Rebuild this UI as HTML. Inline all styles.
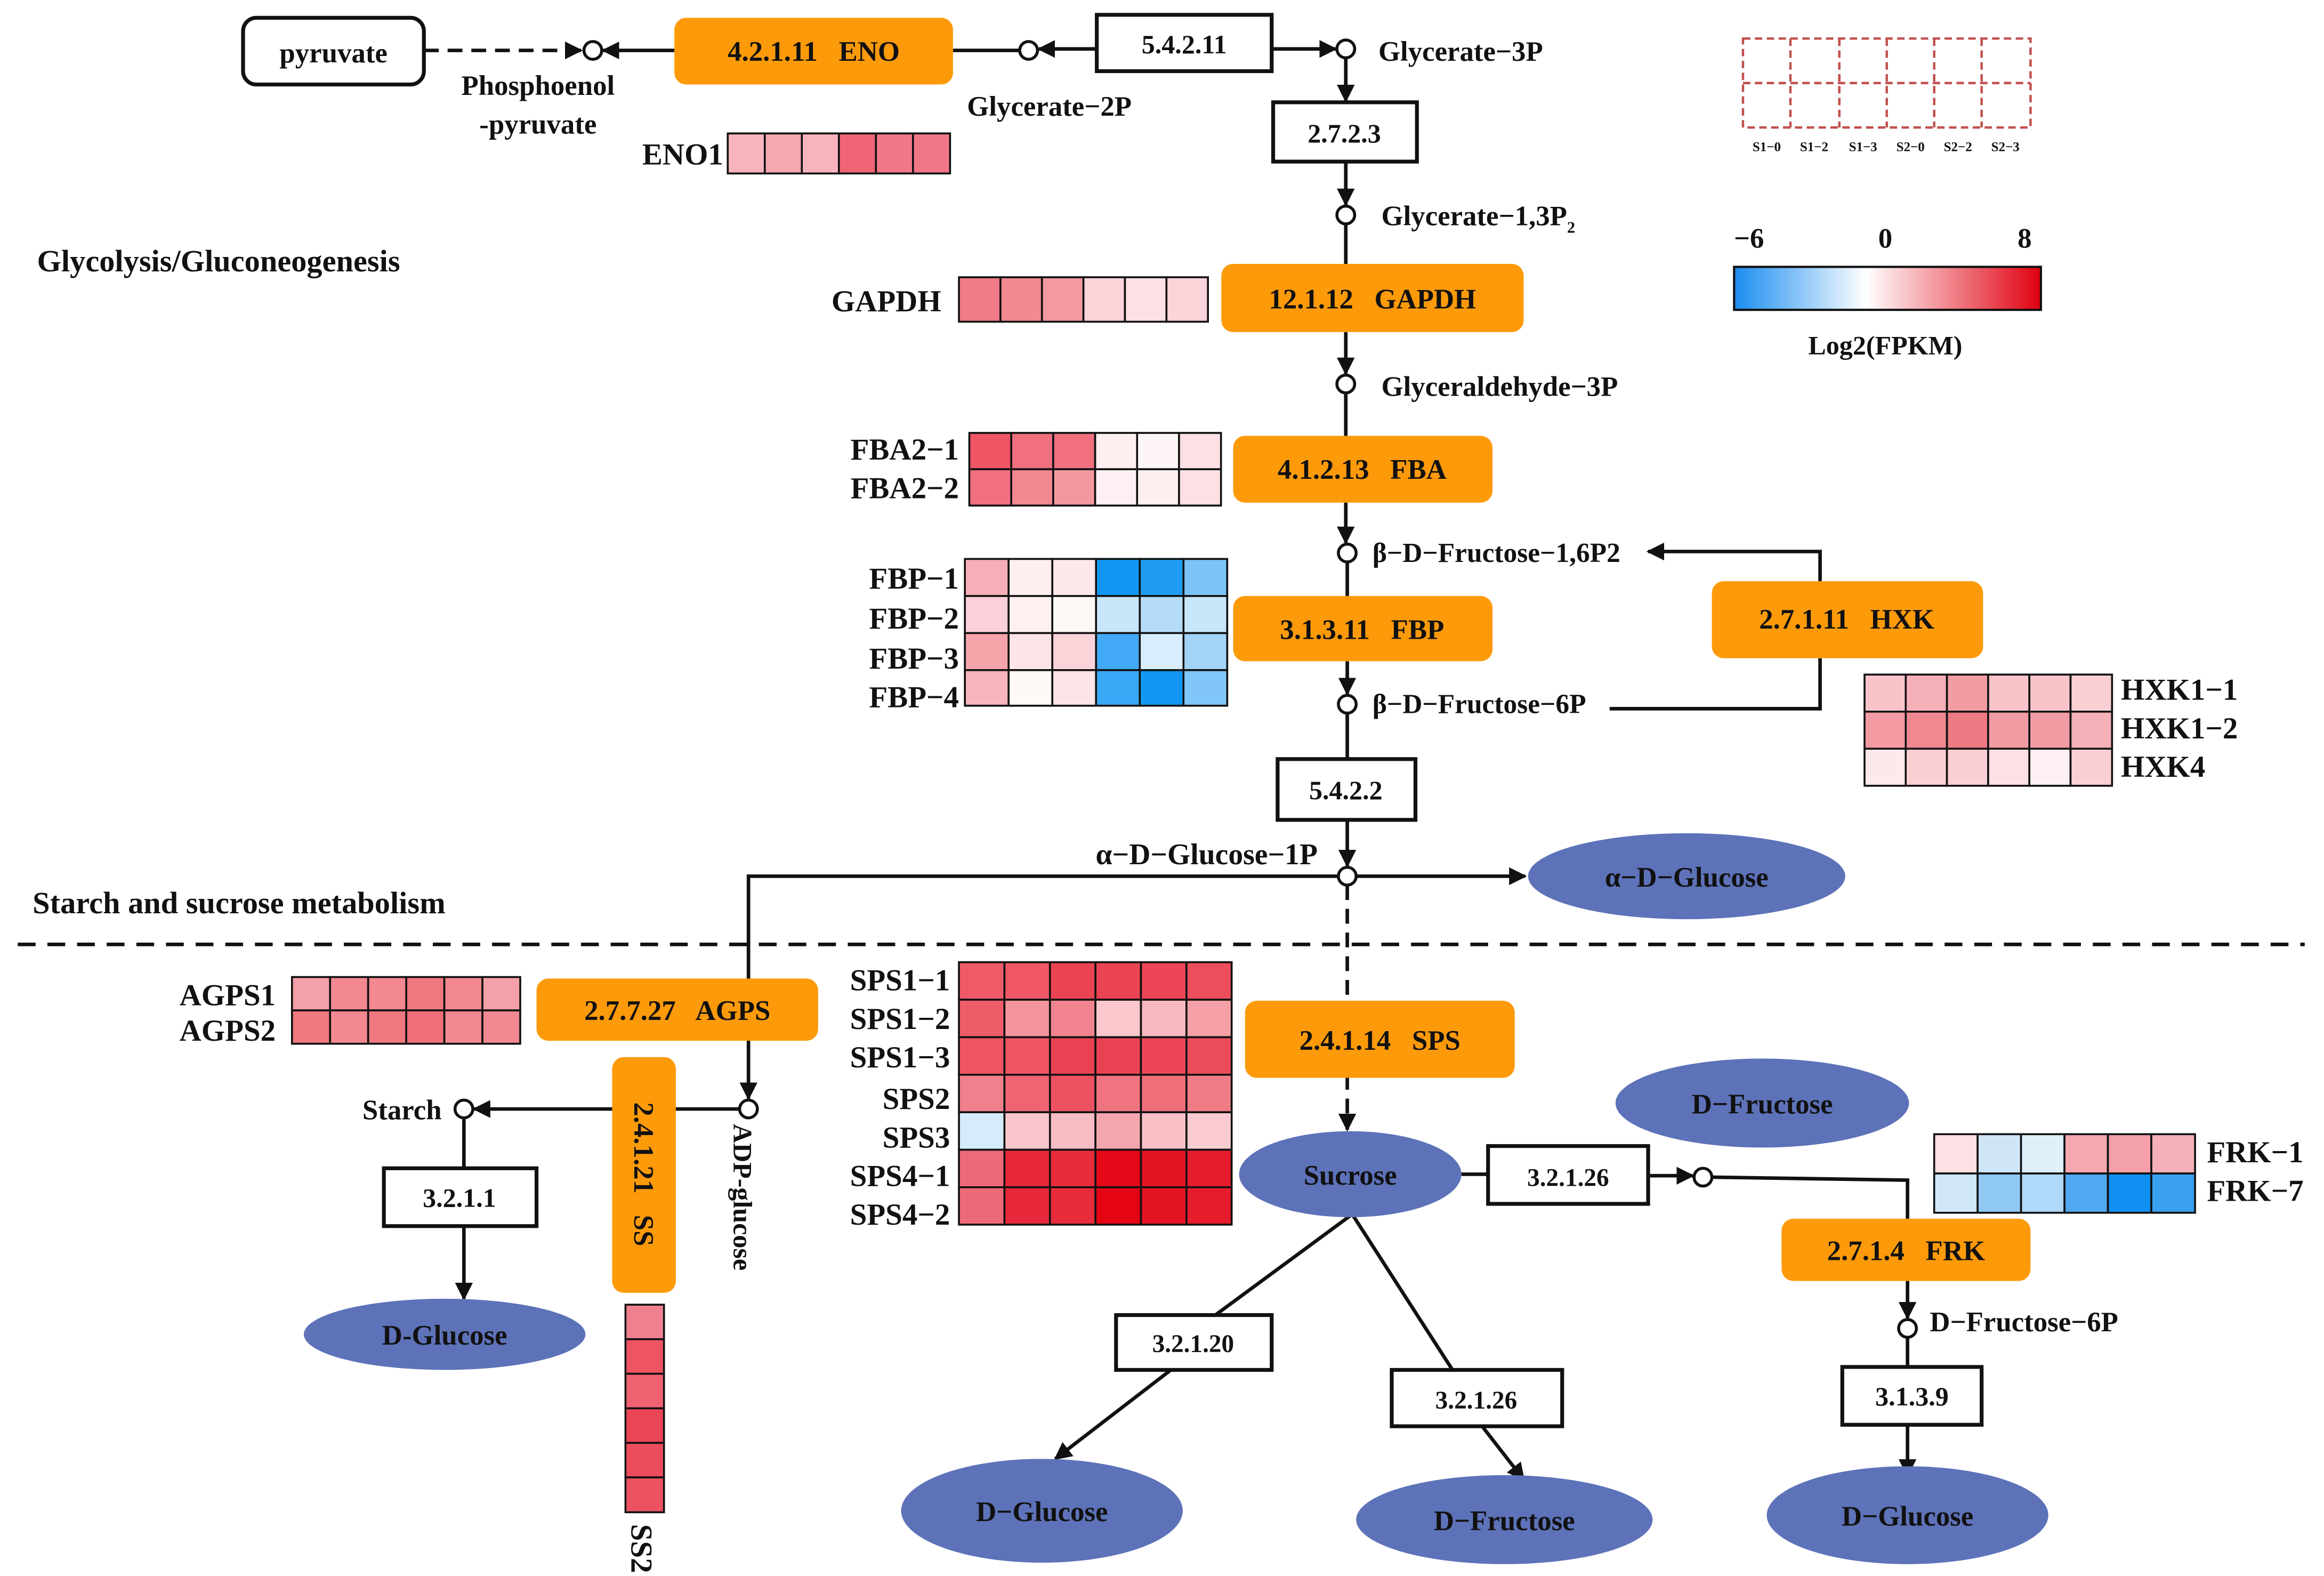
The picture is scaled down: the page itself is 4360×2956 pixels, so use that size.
<!DOCTYPE html>
<html><head><meta charset="utf-8"><style>
html,body{margin:0;padding:0;background:#fff}
svg{display:block}
text{font-family:"Liberation Serif",serif;font-weight:bold;fill:#111;white-space:pre}
.hm rect{stroke:#111;stroke-width:1.3}
.or{fill:#fd9a0a}
.bx{fill:#fff;stroke:#111;stroke-width:2.6}
.el{fill:#5d72b8}
.ln{stroke:#111;stroke-width:2.4;fill:none}
.ci{fill:#fff;stroke:#111;stroke-width:2}
</style></head><body>
<svg width="4360" height="2956" viewBox="0 0 1568 1063" preserveAspectRatio="none" xmlns="http://www.w3.org/2000/svg" xml:space="preserve">
<defs>
<marker id="a" viewBox="0 0 10 10" refX="9" refY="5" markerWidth="12" markerHeight="12" markerUnits="userSpaceOnUse" orient="auto"><path d="M0,0 L10,5 L0,10 z" fill="#111"/></marker>
<linearGradient id="cb" x1="0" x2="1"><stop offset="0" stop-color="#1a8cf0"/><stop offset="0.43" stop-color="#ffffff"/><stop offset="1" stop-color="#e00010"/></linearGradient>
</defs>

<text x="25" y="183" font-size="21">Glycolysis/Gluconeogenesis</text>
<text x="22" y="616" font-size="21">Starch and sucrose metabolism</text>
<line x1="12" y1="637" x2="1555" y2="637" stroke="#111" stroke-width="2.4" stroke-dasharray="12,8"/>

<g stroke="#c0504d" stroke-width="1.6" stroke-dasharray="5,3" fill="none">
<rect x="1176" y="26" width="194" height="60"/>
<line x1="1176" y1="56" x2="1370" y2="56"/>
<line x1="1208" y1="26" x2="1208" y2="86"/><line x1="1241" y1="26" x2="1241" y2="86"/><line x1="1273" y1="26" x2="1273" y2="86"/><line x1="1305" y1="26" x2="1305" y2="86"/><line x1="1337" y1="26" x2="1337" y2="86"/>
</g>
<g font-size="9" text-anchor="middle"><text x="1192" y="102">S1−0</text><text x="1224" y="102">S1−2</text><text x="1257" y="102">S1−3</text><text x="1289" y="102">S2−0</text><text x="1321" y="102">S2−2</text><text x="1353" y="102">S2−3</text></g>
<g font-size="19" text-anchor="middle"><text x="1180" y="167">−6</text><text x="1272" y="167">0</text><text x="1366" y="167">8</text></g>
<rect x="1170" y="180" width="207" height="29" fill="url(#cb)" stroke="#111" stroke-width="1.5"/>
<text x="1272" y="239" font-size="18" text-anchor="middle">Log2(FPKM)</text>

<line class="ln" x1="286" y1="34" x2="392" y2="34" stroke-dasharray="10,6" marker-end="url(#a)"/>
<line class="ln" x1="455" y1="34" x2="407" y2="34" marker-end="url(#a)"/>
<line class="ln" x1="643" y1="34" x2="688" y2="34"/>
<line class="ln" x1="740" y1="33" x2="701" y2="33" marker-end="url(#a)"/>
<line class="ln" x1="858" y1="33" x2="901" y2="33" marker-end="url(#a)"/>
<line class="ln" x1="908" y1="39" x2="908" y2="68" marker-end="url(#a)"/>
<line class="ln" x1="908" y1="109" x2="908" y2="138" marker-end="url(#a)"/>
<line class="ln" x1="908" y1="151" x2="908" y2="178"/>
<line class="ln" x1="908" y1="224" x2="908" y2="252" marker-end="url(#a)"/>
<line class="ln" x1="908" y1="265" x2="908" y2="294"/>
<line class="ln" x1="908" y1="339" x2="908" y2="366" marker-end="url(#a)"/>
<line class="ln" x1="909" y1="379" x2="909" y2="402"/>
<line class="ln" x1="909" y1="446" x2="909" y2="468" marker-end="url(#a)"/>
<line class="ln" x1="909" y1="481" x2="909" y2="512"/>
<line class="ln" x1="909" y1="553" x2="909" y2="584" marker-end="url(#a)"/>
<polyline class="ln" points="1228,392 1228,372 1112,372" marker-end="url(#a)"/>
<polyline class="ln" points="1228,444 1228,478 1086,478"/>
<line class="ln" x1="915" y1="591" x2="1029" y2="591" marker-end="url(#a)"/>
<polyline class="ln" points="903,591 505,591 505,741" marker-end="url(#a)"/>
<line class="ln" x1="909" y1="597" x2="909" y2="762" stroke-dasharray="10,6" marker-end="url(#a)"/>
<line class="ln" x1="499" y1="748" x2="320" y2="748" marker-end="url(#a)"/>
<line class="ln" x1="313" y1="754" x2="313" y2="788"/>
<line class="ln" x1="313" y1="827" x2="313" y2="876" marker-end="url(#a)"/>
<line class="ln" x1="986" y1="792" x2="1004" y2="792"/>
<line class="ln" x1="1112" y1="793" x2="1142" y2="793" marker-end="url(#a)"/>
<polyline class="ln" points="1155,794 1287,796 1287,822"/>
<line class="ln" x1="1287" y1="864" x2="1287" y2="889" marker-end="url(#a)"/>
<line class="ln" x1="1287" y1="902" x2="1287" y2="922"/>
<line class="ln" x1="1287" y1="961" x2="1287" y2="995" marker-end="url(#a)"/>
<line class="ln" x1="911" y1="820" x2="820" y2="887"/>
<line class="ln" x1="790" y1="924" x2="712" y2="984" marker-end="url(#a)"/>
<line class="ln" x1="913" y1="820" x2="980" y2="924"/>
<line class="ln" x1="1000" y1="962" x2="1028" y2="998" marker-end="url(#a)"/>

<g class="ci"><circle cx="400" cy="34" r="6"/><circle cx="694" cy="34" r="6"/><circle cx="908" cy="33" r="6"/><circle cx="908" cy="145" r="6"/><circle cx="908" cy="259" r="6"/><circle cx="909" cy="373" r="6"/><circle cx="909" cy="475" r="6"/><circle cx="909" cy="591" r="6"/><circle cx="505" cy="748" r="6"/><circle cx="313" cy="748" r="6"/><circle cx="1149" cy="794" r="6"/><circle cx="1287" cy="896" r="6"/></g>

<rect class="bx" x="164" y="12" width="122" height="45" rx="9"/><text x="225" y="42" font-size="19" text-anchor="middle">pyruvate</text>
<rect class="bx" x="740" y="10" width="118" height="38"/><text x="799" y="36" font-size="18" text-anchor="middle">5.4.2.11</text>
<rect class="bx" x="859" y="69" width="97" height="40"/><text x="907" y="96" font-size="18" text-anchor="middle">2.7.2.3</text>
<rect class="bx" x="862" y="512" width="93" height="41"/><text x="908" y="539" font-size="18" text-anchor="middle">5.4.2.2</text>
<rect class="bx" x="259" y="788" width="103" height="39"/><text x="310" y="814" font-size="18" text-anchor="middle">3.2.1.1</text>
<rect class="bx" x="1004" y="773" width="108" height="39"/><text x="1058" y="800" font-size="17" text-anchor="middle">3.2.1.26</text>
<rect class="bx" x="753" y="887" width="105" height="37"/><text x="805" y="912" font-size="17" text-anchor="middle">3.2.1.20</text>
<rect class="bx" x="939" y="924" width="115" height="38"/><text x="996" y="950" font-size="17" text-anchor="middle">3.2.1.26</text>
<rect class="bx" x="1243" y="922" width="94" height="39"/><text x="1290" y="948" font-size="18" text-anchor="middle">3.1.3.9</text>

<g font-size="19" text-anchor="middle">
<rect class="or" x="455" y="12" width="188" height="45" rx="8"/><text x="549" y="41">4.2.1.11   ENO</text>
<rect class="or" x="824" y="178" width="204" height="46" rx="8"/><text x="926" y="208">12.1.12   GAPDH</text>
<rect class="or" x="832" y="294" width="175" height="45" rx="8"/><text x="919" y="323">4.1.2.13   FBA</text>
<rect class="or" x="832" y="402" width="175" height="44" rx="8"/><text x="919" y="431">3.1.3.11   FBP</text>
<rect class="or" x="1155" y="392" width="183" height="52" rx="8"/><text x="1246" y="424">2.7.1.11   HXK</text>
<rect class="or" x="362" y="660" width="190" height="42" rx="8"/><text x="457" y="688">2.7.7.27   AGPS</text>
<rect class="or" x="413" y="713" width="43" height="159" rx="8"/><text transform="translate(428,792) rotate(90)" x="0" y="0">2.4.1.21   SS</text>
<rect class="or" x="840" y="675" width="182" height="52" rx="8"/><text x="931" y="708">2.4.1.14   SPS</text>
<rect class="or" x="1202" y="822" width="168" height="42" rx="8"/><text x="1286" y="850">2.7.1.4   FRK</text>
</g>

<g font-size="19" text-anchor="middle">
<ellipse class="el" cx="1138" cy="591" rx="107" ry="29"/><text x="1138" y="598">α−D−Glucose</text>
<ellipse class="el" cx="1189" cy="744" rx="99" ry="30"/><text x="1189" y="751">D−Fructose</text>
<ellipse class="el" cx="911" cy="792" rx="75" ry="29"/><text x="911" y="799">Sucrose</text>
<ellipse class="el" cx="300" cy="900" rx="95" ry="24"/><text x="300" y="907">D-Glucose</text>
<ellipse class="el" cx="703" cy="1019" rx="95" ry="35"/><text x="703" y="1026">D−Glucose</text>
<ellipse class="el" cx="1015" cy="1025" rx="100" ry="30"/><text x="1015" y="1032">D−Fructose</text>
<ellipse class="el" cx="1287" cy="1022" rx="95" ry="33"/><text x="1287" y="1029">D−Glucose</text>
</g>

<g font-size="19">
<text x="363" y="64" text-anchor="middle">Phosphoenol</text>
<text x="363" y="90" text-anchor="middle">-pyruvate</text>
<text x="708" y="78" text-anchor="middle">Glycerate−2P</text>
<text x="930" y="41">Glycerate−3P</text>
<text x="932" y="152">Glycerate−1,3P<tspan font-size="11" dy="5">2</tspan></text>
<text x="932" y="267">Glyceraldehyde−3P</text>
<text x="926" y="379" font-size="18.5">β−D−Fructose−1,6P2</text>
<text x="926" y="481" font-size="18.5">β−D−Fructose−6P</text>
<text x="889" y="583" text-anchor="end" font-size="20">α−D−Glucose−1P</text>
<text x="298" y="755" text-anchor="end">Starch</text>
<text transform="translate(495,758) rotate(90)" font-size="18">ADP-glucose</text>
<text x="1302" y="898">D−Fructose−6P</text>
</g>

<g font-size="20.5" text-anchor="end">
<text x="488" y="111">ENO1</text>
<text x="635" y="210">GAPDH</text>
<text x="647" y="310">FBA2−1</text><text x="647" y="336">FBA2−2</text>
<text x="647" y="397">FBP−1</text><text x="647" y="424">FBP−2</text><text x="647" y="451">FBP−3</text><text x="647" y="477">FBP−4</text>
<text x="186" y="678">AGPS1</text><text x="186" y="702">AGPS2</text>
<text x="641" y="668">SPS1−1</text><text x="641" y="694">SPS1−2</text><text x="641" y="720">SPS1−3</text><text x="641" y="748">SPS2</text><text x="641" y="774">SPS3</text><text x="641" y="800">SPS4−1</text><text x="641" y="826">SPS4−2</text>
</g>
<g font-size="20.5">
<text x="1431" y="472">HXK1−1</text><text x="1431" y="498">HXK1−2</text><text x="1431" y="524">HXK4</text>
<text x="1489" y="784">FRK−1</text><text x="1489" y="810">FRK−7</text>
<text transform="translate(426,1028) rotate(90)">SS2</text>
</g>

<g class="hm">
<rect x="491" y="90" width="25" height="27" fill="#f8b4bc"/><rect x="516" y="90" width="25" height="27" fill="#f6a8b0"/><rect x="541" y="90" width="25" height="27" fill="#f8b4bc"/><rect x="566" y="90" width="25" height="27" fill="#ef6474"/><rect x="591" y="90" width="25" height="27" fill="#f27888"/><rect x="616" y="90" width="25" height="27" fill="#f27888"/>
<rect x="647" y="187" width="28" height="30" fill="#f07c88"/><rect x="675" y="187" width="28" height="30" fill="#f28890"/><rect x="703" y="187" width="28" height="30" fill="#f4999f"/><rect x="731" y="187" width="28" height="30" fill="#fcd4da"/><rect x="759" y="187" width="28" height="30" fill="#fde0e3"/><rect x="787" y="187" width="28" height="30" fill="#fcd4da"/>
<rect x="654" y="292" width="28.3" height="24.5" fill="#ee5565"/><rect x="682.3" y="292" width="28.3" height="24.5" fill="#f07080"/><rect x="710.6" y="292" width="28.3" height="24.5" fill="#f07080"/><rect x="738.9" y="292" width="28.3" height="24.5" fill="#fdeef0"/><rect x="767.2" y="292" width="28.3" height="24.5" fill="#fef5f6"/><rect x="795.5" y="292" width="28.3" height="24.5" fill="#fde0e4"/>
<rect x="654" y="316.5" width="28.3" height="24.5" fill="#f07080"/><rect x="682.3" y="316.5" width="28.3" height="24.5" fill="#f28890"/><rect x="710.6" y="316.5" width="28.3" height="24.5" fill="#f4989f"/><rect x="738.9" y="316.5" width="28.3" height="24.5" fill="#fef0f2"/><rect x="767.2" y="316.5" width="28.3" height="24.5" fill="#fdeef0"/><rect x="795.5" y="316.5" width="28.3" height="24.5" fill="#fde0e4"/>
<rect x="651" y="377" width="29.5" height="25" fill="#f6aeb8"/><rect x="680.5" y="377" width="29.5" height="25" fill="#fdeef0"/><rect x="710" y="377" width="29.5" height="25" fill="#fde8ea"/><rect x="739.5" y="377" width="29.5" height="25" fill="#1298f4"/><rect x="769" y="377" width="29.5" height="25" fill="#209cf4"/><rect x="798.5" y="377" width="29.5" height="25" fill="#7ac4f8"/>
<rect x="651" y="402" width="29.5" height="25" fill="#fbd0d8"/><rect x="680.5" y="402" width="29.5" height="25" fill="#fdf0f1"/><rect x="710" y="402" width="29.5" height="25" fill="#fef8f6"/><rect x="739.5" y="402" width="29.5" height="25" fill="#c8e6fa"/><rect x="769" y="402" width="29.5" height="25" fill="#b4dcfa"/><rect x="798.5" y="402" width="29.5" height="25" fill="#c8e6fa"/>
<rect x="651" y="427" width="29.5" height="25" fill="#f5a4aa"/><rect x="680.5" y="427" width="29.5" height="25" fill="#fde4e6"/><rect x="710" y="427" width="29.5" height="25" fill="#fbd4da"/><rect x="739.5" y="427" width="29.5" height="25" fill="#42aaf6"/><rect x="769" y="427" width="29.5" height="25" fill="#d8eefc"/><rect x="798.5" y="427" width="29.5" height="25" fill="#a2d4f8"/>
<rect x="651" y="452" width="29.5" height="24" fill="#f6b4bc"/><rect x="680.5" y="452" width="29.5" height="24" fill="#fef8f6"/><rect x="710" y="452" width="29.5" height="24" fill="#fde4e6"/><rect x="739.5" y="452" width="29.5" height="24" fill="#3aa8f6"/><rect x="769" y="452" width="29.5" height="24" fill="#1298f4"/><rect x="798.5" y="452" width="29.5" height="24" fill="#80c6f8"/>
<rect x="1258" y="455" width="27.8" height="25" fill="#f8c4ca"/><rect x="1285.8" y="455" width="27.8" height="25" fill="#f6b0b8"/><rect x="1313.6" y="455" width="27.8" height="25" fill="#f29ca4"/><rect x="1341.4" y="455" width="27.8" height="25" fill="#f8c4ca"/><rect x="1369.2" y="455" width="27.8" height="25" fill="#f8c4ca"/><rect x="1397" y="455" width="28" height="25" fill="#fad0d5"/>
<rect x="1258" y="480" width="27.8" height="25" fill="#f39aa3"/><rect x="1285.8" y="480" width="27.8" height="25" fill="#f08890"/><rect x="1313.6" y="480" width="27.8" height="25" fill="#ee7a84"/><rect x="1341.4" y="480" width="27.8" height="25" fill="#f29ca4"/><rect x="1369.2" y="480" width="27.8" height="25" fill="#f29ca4"/><rect x="1397" y="480" width="28" height="25" fill="#f6b0b8"/>
<rect x="1258" y="505" width="27.8" height="25" fill="#fde8ea"/><rect x="1285.8" y="505" width="27.8" height="25" fill="#fad0d5"/><rect x="1313.6" y="505" width="27.8" height="25" fill="#fad0d5"/><rect x="1341.4" y="505" width="27.8" height="25" fill="#fde0e3"/><rect x="1369.2" y="505" width="27.8" height="25" fill="#fef0f2"/><rect x="1397" y="505" width="28" height="25" fill="#fad0d5"/>
<rect x="197" y="659" width="25.7" height="22.5" fill="#f4a0a8"/><rect x="222.7" y="659" width="25.7" height="22.5" fill="#f28890"/><rect x="248.4" y="659" width="25.7" height="22.5" fill="#f28890"/><rect x="274.1" y="659" width="25.7" height="22.5" fill="#f07880"/><rect x="299.8" y="659" width="25.7" height="22.5" fill="#f28890"/><rect x="325.5" y="659" width="25.5" height="22.5" fill="#f4a0a8"/>
<rect x="197" y="681.5" width="25.7" height="22.5" fill="#f07880"/><rect x="222.7" y="681.5" width="25.7" height="22.5" fill="#f28890"/><rect x="248.4" y="681.5" width="25.7" height="22.5" fill="#f07880"/><rect x="274.1" y="681.5" width="25.7" height="22.5" fill="#ef707a"/><rect x="299.8" y="681.5" width="25.7" height="22.5" fill="#f28890"/><rect x="325.5" y="681.5" width="25.5" height="22.5" fill="#f28890"/>
<rect x="647" y="649" width="30.7" height="25.3" fill="#ee5a68"/><rect x="677.7" y="649" width="30.7" height="25.3" fill="#f05868"/><rect x="708.4" y="649" width="30.7" height="25.3" fill="#ea4452"/><rect x="739.1" y="649" width="30.7" height="25.3" fill="#ea4452"/><rect x="769.8" y="649" width="30.7" height="25.3" fill="#ec4656"/><rect x="800.5" y="649" width="30.5" height="25.3" fill="#ec4e5c"/>
<rect x="647" y="674.3" width="30.7" height="25.3" fill="#ef5c6a"/><rect x="677.7" y="674.3" width="30.7" height="25.3" fill="#f4949c"/><rect x="708.4" y="674.3" width="30.7" height="25.3" fill="#f28490"/><rect x="739.1" y="674.3" width="30.7" height="25.3" fill="#fac8cc"/><rect x="769.8" y="674.3" width="30.7" height="25.3" fill="#f8b8c0"/><rect x="800.5" y="674.3" width="30.5" height="25.3" fill="#f4a0a6"/>
<rect x="647" y="699.6" width="30.7" height="25.3" fill="#ee5464"/><rect x="677.7" y="699.6" width="30.7" height="25.3" fill="#f05464"/><rect x="708.4" y="699.6" width="30.7" height="25.3" fill="#ea4252"/><rect x="739.1" y="699.6" width="30.7" height="25.3" fill="#ea4252"/><rect x="769.8" y="699.6" width="30.7" height="25.3" fill="#ec4656"/><rect x="800.5" y="699.6" width="30.5" height="25.3" fill="#ec4c5a"/>
<rect x="647" y="724.9" width="30.7" height="25.3" fill="#f0808c"/><rect x="677.7" y="724.9" width="30.7" height="25.3" fill="#ee6472"/><rect x="708.4" y="724.9" width="30.7" height="25.3" fill="#ec5262"/><rect x="739.1" y="724.9" width="30.7" height="25.3" fill="#f07480"/><rect x="769.8" y="724.9" width="30.7" height="25.3" fill="#ee6e7a"/><rect x="800.5" y="724.9" width="30.5" height="25.3" fill="#f07c86"/>
<rect x="647" y="750.2" width="30.7" height="25.3" fill="#d6ecfc"/><rect x="677.7" y="750.2" width="30.7" height="25.3" fill="#f8c6cc"/><rect x="708.4" y="750.2" width="30.7" height="25.3" fill="#f8bcc4"/><rect x="739.1" y="750.2" width="30.7" height="25.3" fill="#f4a6ae"/><rect x="769.8" y="750.2" width="30.7" height="25.3" fill="#f8c0c6"/><rect x="800.5" y="750.2" width="30.5" height="25.3" fill="#facbd0"/>
<rect x="647" y="775.5" width="30.7" height="25.3" fill="#ef6a78"/><rect x="677.7" y="775.5" width="30.7" height="25.3" fill="#e6283a"/><rect x="708.4" y="775.5" width="30.7" height="25.3" fill="#e82c3c"/><rect x="739.1" y="775.5" width="30.7" height="25.3" fill="#e40818"/><rect x="769.8" y="775.5" width="30.7" height="25.3" fill="#e41422"/><rect x="800.5" y="775.5" width="30.5" height="25.3" fill="#e61c2c"/>
<rect x="647" y="800.8" width="30.7" height="25.2" fill="#ef6a78"/><rect x="677.7" y="800.8" width="30.7" height="25.2" fill="#e6283a"/><rect x="708.4" y="800.8" width="30.7" height="25.2" fill="#e82c3c"/><rect x="739.1" y="800.8" width="30.7" height="25.2" fill="#e40414"/><rect x="769.8" y="800.8" width="30.7" height="25.2" fill="#e41422"/><rect x="800.5" y="800.8" width="30.5" height="25.2" fill="#e61c2c"/>
<rect x="422" y="880" width="26" height="23.3" fill="#f08090"/><rect x="422" y="903.3" width="26" height="23.3" fill="#ee5464"/><rect x="422" y="926.6" width="26" height="23.3" fill="#ef6272"/><rect x="422" y="949.9" width="26" height="23.3" fill="#ea4656"/><rect x="422" y="973.2" width="26" height="23.3" fill="#ec4c5c"/><rect x="422" y="996.5" width="26" height="23.5" fill="#ec5262"/>
<rect x="1305" y="765" width="29.3" height="26.5" fill="#fde0e3"/><rect x="1334.3" y="765" width="29.3" height="26.5" fill="#cfe6f8"/><rect x="1363.6" y="765" width="29.3" height="26.5" fill="#dff0fb"/><rect x="1392.9" y="765" width="29.3" height="26.5" fill="#f4a8b0"/><rect x="1422.2" y="765" width="29.3" height="26.5" fill="#f4a0a8"/><rect x="1451.5" y="765" width="29.5" height="26.5" fill="#f6b0b8"/>
<rect x="1305" y="791.5" width="29.3" height="26.5" fill="#d0e8fa"/><rect x="1334.3" y="791.5" width="29.3" height="26.5" fill="#90c8f4"/><rect x="1363.6" y="791.5" width="29.3" height="26.5" fill="#b0d8f8"/><rect x="1392.9" y="791.5" width="29.3" height="26.5" fill="#50a8f0"/><rect x="1422.2" y="791.5" width="29.3" height="26.5" fill="#1090f0"/><rect x="1451.5" y="791.5" width="29.5" height="26.5" fill="#3aa0f0"/>
</g>
</svg>
</body></html>
